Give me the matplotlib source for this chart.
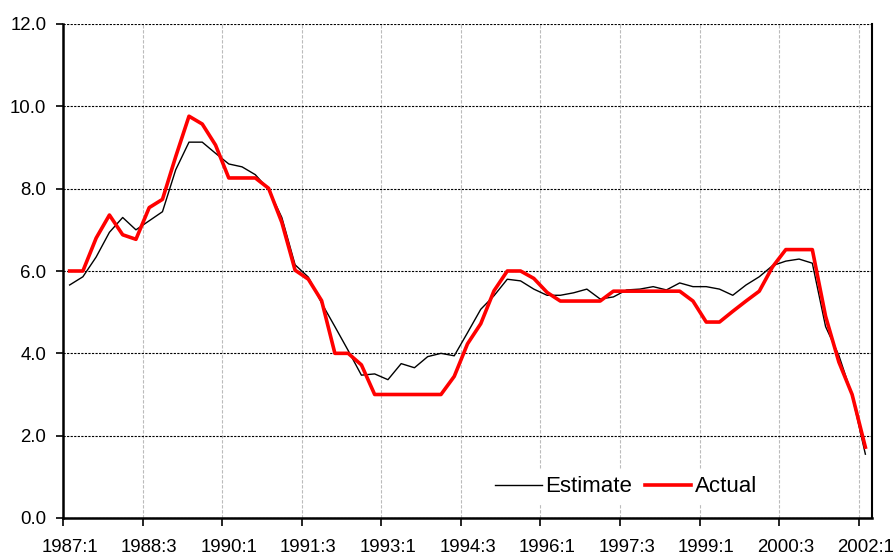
import matplotlib.pyplot as plt
import numpy as np

plt.rcParams['font.family'] = ['Liberation Sans', 'DejaVu Sans']

# quarterly data 1987:1 .. 2002:1
quarters = ['%d:%d' % (1987 + q // 4, q % 4 + 1) for q in range(61)]

estimate = [5.66, 5.86, 6.34, 6.94, 7.30, 7.00, 7.22, 7.44, 8.46, 9.13,
            9.13, 8.86, 8.60, 8.53, 8.34, 7.98, 7.30, 6.15, 5.85, 5.22,
            4.65, 4.07, 3.47, 3.50, 3.36, 3.75, 3.65, 3.92, 4.00, 3.94,
            4.50, 5.07, 5.40, 5.80, 5.76, 5.56, 5.41, 5.41, 5.47, 5.56,
            5.32, 5.37, 5.54, 5.56, 5.62, 5.54, 5.71, 5.62, 5.62, 5.56,
            5.41, 5.66, 5.86, 6.13, 6.24, 6.29, 6.19, 4.65, 3.95, 2.98,
            1.55]

actual = [6.00, 6.00, 6.80, 7.36, 6.88, 6.77, 7.54, 7.74, 8.78, 9.76,
          9.57, 9.06, 8.26, 8.26, 8.26, 8.01, 7.18, 6.02, 5.80, 5.28,
          4.00, 4.00, 3.72, 3.00, 3.00, 3.00, 3.00, 3.00, 3.00, 3.44,
          4.23, 4.72, 5.52, 6.00, 6.00, 5.82, 5.48, 5.27, 5.27, 5.27,
          5.27, 5.51, 5.51, 5.51, 5.51, 5.51, 5.51, 5.27, 4.76, 4.76,
          5.02, 5.27, 5.51, 6.10, 6.52, 6.52, 6.52, 4.90, 3.79, 3.00,
          1.72]

fig = plt.figure(figsize=(8.96, 5.56), dpi=100)
ax = fig.add_axes([63/896, 1 - 518/556, (872 - 63)/896, (518 - 24)/556])

x = np.arange(len(quarters)) + 0.5
ax.plot(x, estimate, color='black', lw=1.0, label='Estimate', zorder=3)
ax.plot(x, actual, color='#ff0000', lw=2.6, label='Actual', zorder=4)

ax.set_xlim(0, 61)
ax.set_ylim(0, 12)

# y axis
ax.set_yticks(np.arange(0, 12.1, 2))
ax.set_yticklabels(['%.1f' % v for v in np.arange(0, 12.1, 2)])
ax.yaxis.grid(True, color='black', linestyle=(0, (2, 1.2)), lw=0.8)

# x axis: tick marks at category boundaries, labels centred on categories
ax.set_xticks(np.arange(0, 61, 6))
ax.set_xticklabels([])
ax.set_xticks(np.arange(0, 61, 6) + 0.5, minor=True)
ax.set_xticklabels(quarters[::6], minor=True)
ax.tick_params(axis='x', which='minor', length=0, pad=15, labelsize=13.4)
ax.tick_params(axis='x', which='major', length=6, width=1.2, direction='out')
ax.tick_params(axis='y', length=5, width=1.2, pad=7, labelsize=13.4)
ax.xaxis.grid(True, which='major', color='#bbbbbb', linestyle=(0, (3, 1.5)), lw=0.8)
ax.set_axisbelow(True)

ax.spines['top'].set_visible(False)
ax.spines['left'].set_linewidth(1.8)
ax.spines['bottom'].set_linewidth(1.8)
ax.spines['right'].set_linewidth(1.5)

leg = ax.legend(loc='center left', bbox_to_anchor=(0.5257, 0.0628), ncol=2,
                fontsize=16, handlelength=2.1, columnspacing=0.55,
                handletextpad=0.18, frameon=True, fancybox=False,
                borderpad=0.3, borderaxespad=0)
leg.get_frame().set_edgecolor('none')
leg.get_frame().set_facecolor('white')
leg.get_frame().set_alpha(1)
leg.set_zorder(10)

fig.savefig('out.png', dpi=100)
